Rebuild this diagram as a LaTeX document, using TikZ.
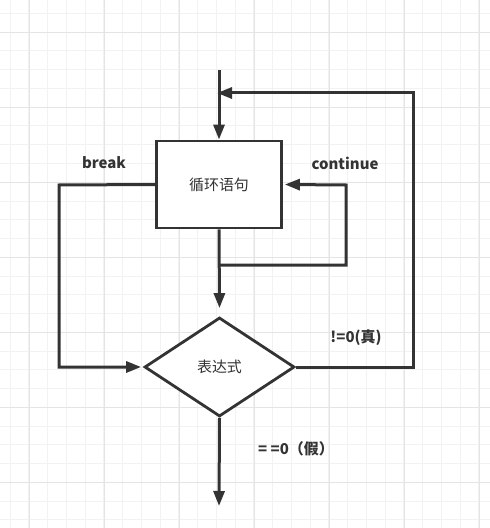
\documentclass[tikz,border=0pt]{standalone}
\usepackage{fontspec}
\setmainfont{Noto Sans CJK SC}
\usepackage{tikz}
\usetikzlibrary{arrows.meta, positioning, shapes.geometric}
\definecolor{ink}{HTML}{333333}
\definecolor{gridminor}{HTML}{F2F2F2}
\definecolor{gridmajor}{HTML}{E4E4E4}

\begin{document}
\begin{tikzpicture}[
        x=1bp, y=-1bp,
        >={Triangle[length=15bp, width=11bp]},
        block/.style={rectangle, draw=ink, line width=2.8bp, fill=white,
            minimum width=125bp, minimum height=87bp, inner sep=0pt,
            text=ink, font=\fontsize{15}{18}\selectfont},
        decision/.style={diamond, draw=ink, line width=2.8bp, fill=white,
            minimum width=150bp, minimum height=99bp, inner sep=0pt,
            text=ink, font=\fontsize{15}{18}\selectfont},
        flow/.style={draw=ink, line width=3bp},
        tag/.style={text=ink, font=\fontsize{15}{18}\selectfont\bfseries}
    ]
        \useasboundingbox (0,0) rectangle (490,528);
        % grid
        \foreach \k in {0,...,25}
            \draw[gridminor, line width=1bp] ({10+18.75*\k},0) -- ({10+18.75*\k},528);
        \foreach \k in {0,...,27}
            \draw[gridminor, line width=1bp] (0,{13.5+18.75*\k}) -- (490,{13.5+18.75*\k});
        \foreach \k in {0,...,6}
            \draw[gridmajor, line width=1bp] ({29+75*\k},0) -- ({29+75*\k},528);
        \foreach \k in {0,...,6}
            \draw[gridmajor, line width=1bp] (0,{32.3+75*\k}) -- (490,{32.3+75*\k});

        % blocks
        \node[block] (loopbox) at (219,184.5) {循环语句};
        \node[decision] (cond) at (219.5,367) {表达式};

        \coordinate (start) at (219,70);
        \coordinate (join) at (217,93);
        \coordinate (back) at (413,93);
        \coordinate (backlow) at (413,367);
        \coordinate (brk) at (59,185);
        \coordinate (brklow) at (59,367);
        \coordinate (cont) at (346,185);
        \coordinate (contlow) at (346,265);
        \coordinate (split) at (219,265);
        \coordinate (stop) at (219,506);

        % labels
        \node[tag] (brktag) at (104,163) {break};
        \node[tag] (conttag) at (345,163) {continue};
        \node[tag] (truetag) at (356,338) {!=0(真)};
        \node[tag] (falsetag) at (296,449) {= =0（假）};

        % connectors
        \draw[flow, ->] (start) -- (loopbox.north);
        \draw[flow, ->] (loopbox.south) -- ([yshift=8bp]cond.north);
        \draw[flow, ->] (loopbox.west) -- (brk) -- (brklow) -- ([xshift=-2bp]cond.west);
        \draw[flow, ->] (split) -- (contlow) -- (cont) -- ([xshift=2bp]loopbox.east);
        \draw[flow, ->] (cond.east) -- (backlow) -- (back) -- (join);
        \draw[flow, ->] (cond.south) -- (stop);
    \end{tikzpicture}
\end{document}
